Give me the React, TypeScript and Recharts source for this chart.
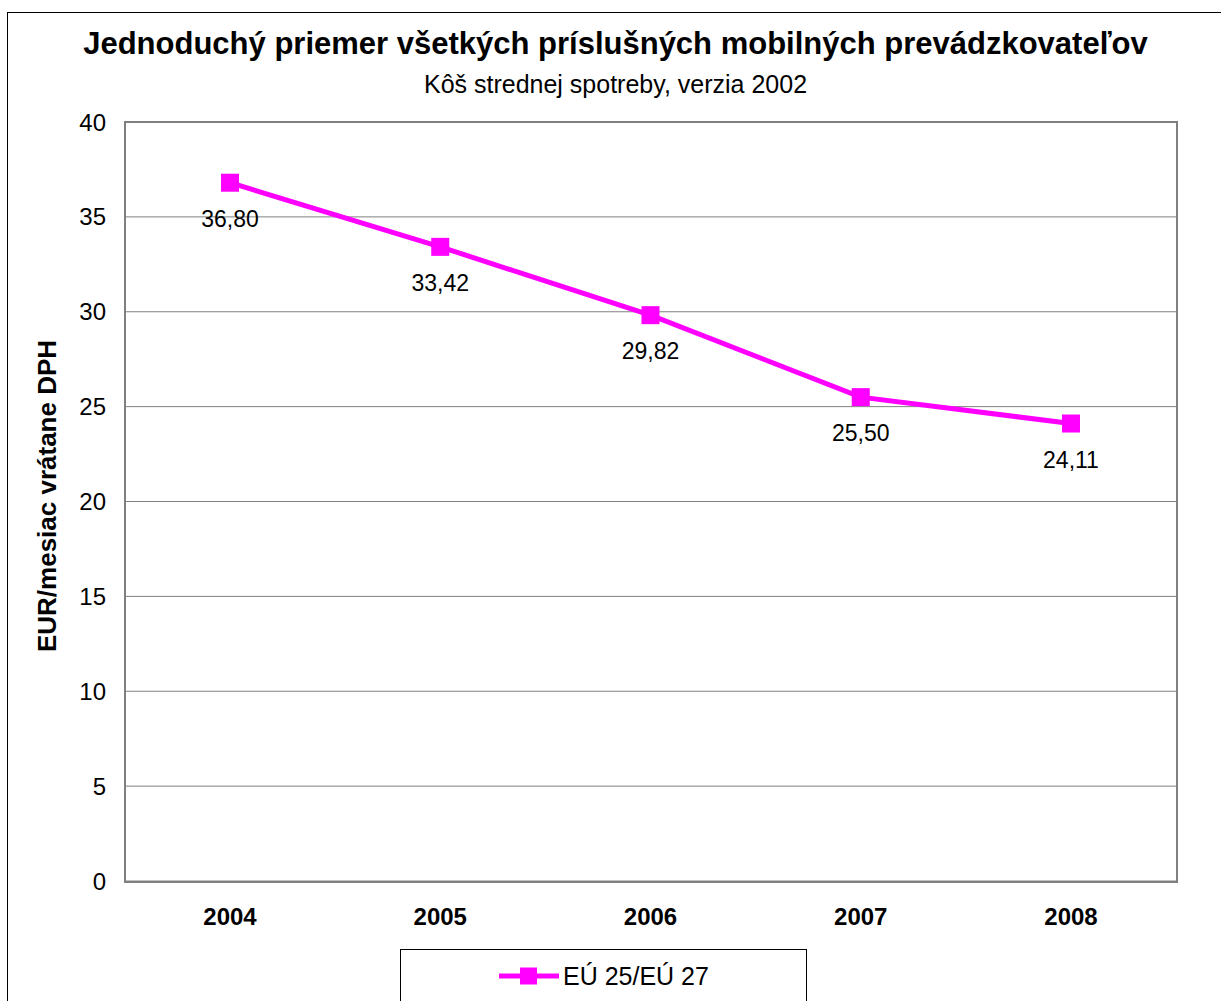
import { LineChart, Line, XAxis, YAxis, CartesianGrid, LabelList } from "recharts";

const years = ["2004", "2005", "2006", "2007", "2008"];
const avgPrice = [36.8, 33.42, 29.82, 25.5, 24.11];
const yTicks = [0, 5, 10, 15, 20, 25, 30, 35, 40];
const seriesName = "EÚ 25/EÚ 27";
const title = "Jednoduchý priemer všetkých príslušných mobilných prevádzkovateľov";
const subtitle = "Kôš strednej spotreby, verzia 2002";
const yLabel = "EUR/mesiac vrátane DPH";

const data = years.map((y, i) => ({ year: y, value: avgPrice[i] }));

const font = "'Liberation Sans', Arial, sans-serif";
const magenta = "#FF00FF";
const gray = "#808080";

const fmt = (v: number) => v.toFixed(2).replace(".", ",");

function SquareDot(props: any) {
  const { cx, cy, index } = props;
  if (cx == null || cy == null) return null;
  return <rect key={`d-${index}`} x={cx - 9} y={cy - 9} width={18} height={18} fill={magenta} />;
}

function ValueLabel(props: any) {
  const { x, y, value } = props;
  return (
    <text x={x} y={y + 36} textAnchor="middle" dominantBaseline="central" fontSize={23} fill="#000" fontFamily={font}>
      {fmt(Number(value))}
    </text>
  );
}

function YTitle() {
  const cy = 496;
  const cx = 47;
  return (
    <text
      x={cx}
      y={cy}
      transform={`rotate(-90, ${cx}, ${cy})`}
      textAnchor="middle"
      dominantBaseline="central"
      fontSize={26}
      fontWeight="bold"
      fill="#000"
      fontFamily={font}
    >
      {yLabel}
    </text>
  );
}

export default function App() {
  return (
    <div
      style={{
        position: "absolute",
        left: 0,
        top: 0,
        width: 1221,
        height: 1001,
        overflow: "hidden",
        background: "#fff",
        fontFamily: font,
      }}
    >
      {/* chart frame */}
      <div style={{ position: "absolute", left: 7, top: 12, width: 1240, height: 1020, border: "1px solid #000" }} />
      {/* plot frame */}
      <div style={{ position: "absolute", left: 124, top: 121, width: 1050, height: 758, border: `2px solid ${gray}` }} />

      <div
        style={{
          position: "absolute",
          left: 10,
          width: 1211,
          top: 28,
          textAlign: "center",
          fontSize: 31,
          lineHeight: "31px",
          fontWeight: "bold",
          whiteSpace: "nowrap",
        }}
      >
        {title}
      </div>
      <div
        style={{
          position: "absolute",
          left: 10,
          width: 1211,
          top: 72,
          textAlign: "center",
          fontSize: 25,
          lineHeight: "25px",
          whiteSpace: "nowrap",
        }}
      >
        {subtitle}
      </div>

      <div style={{ position: "absolute", left: 0, top: 0 }}>
        <LineChart width={1221} height={1001} data={data} margin={{ top: 122, right: 45, bottom: 60, left: 25 }}>
          <CartesianGrid vertical={false} stroke={gray} strokeWidth={1} />
          <XAxis
            dataKey="year"
            height={60}
            padding={{ left: 105, right: 105 }}
            tickLine={false}
            tickSize={0}
            tickMargin={27}
            axisLine={false}
            tick={{ fontSize: 24, fontWeight: "bold", fill: "#000", fontFamily: font }}
          />
          <YAxis
            width={100}
            domain={[0, 40]}
            ticks={yTicks}
            tickLine={false}
            tickSize={0}
            tickMargin={19}
            axisLine={false}
            tick={{ fontSize: 24, fill: "#000", fontFamily: font }}
            label={<YTitle />}
          />
          <Line
            type="linear"
            dataKey="value"
            name={seriesName}
            stroke={magenta}
            strokeWidth={5}
            dot={<SquareDot />}
            activeDot={false}
            isAnimationActive={false}
          >
            <LabelList dataKey="value" content={<ValueLabel />} />
          </Line>
        </LineChart>
      </div>

      {/* legend */}
      <div
        style={{
          position: "absolute",
          left: 400,
          top: 949,
          width: 405,
          height: 80,
          border: "1px solid #000",
          background: "#fff",
        }}
      >
        <div style={{ position: "absolute", left: 98, top: 13, display: "flex", alignItems: "center", height: 26 }}>
          <svg width={60} height={26}>
            <line x1={0} y1={13} x2={60} y2={13} stroke={magenta} strokeWidth={5} />
            <rect x={21} y={4.5} width={17} height={17} fill={magenta} />
          </svg>
          <span style={{ fontSize: 25, lineHeight: "26px", marginLeft: 4 }}>{seriesName}</span>
        </div>
      </div>
    </div>
  );
}
